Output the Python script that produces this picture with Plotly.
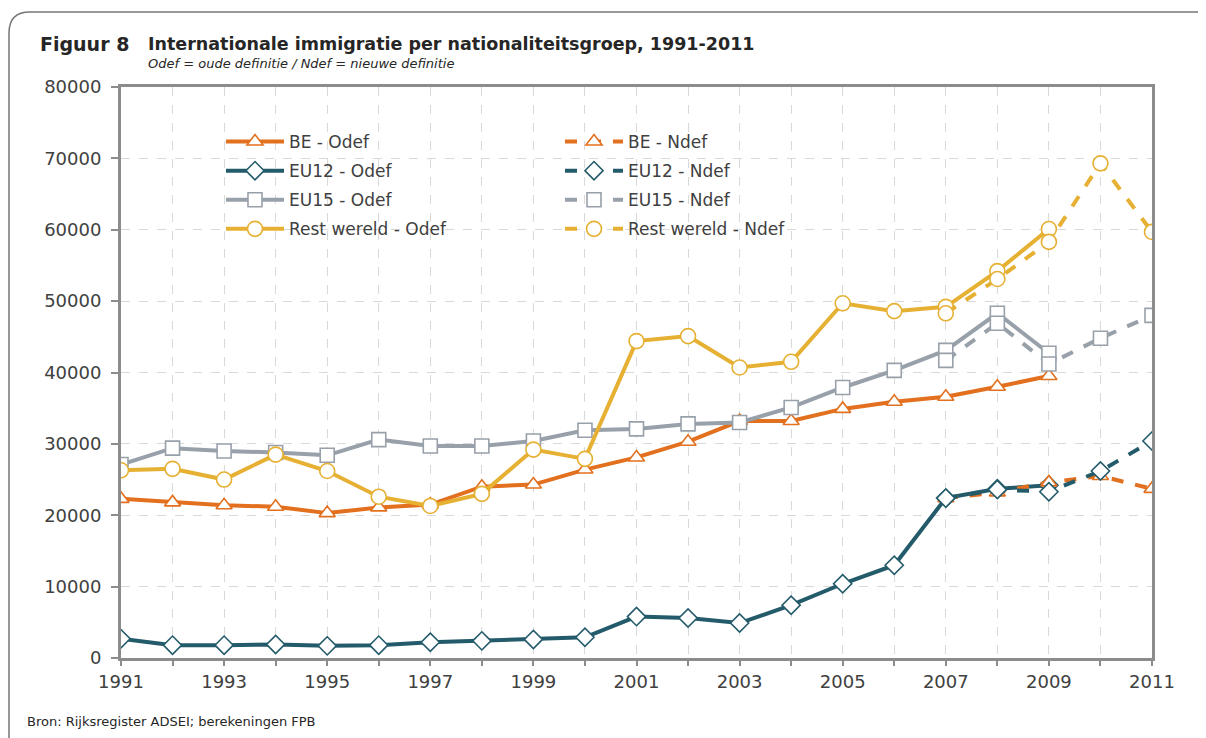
import plotly.graph_objects as go

# Jaren en reeksen
years_odef = list(range(1991, 2010))
years_ndef = list(range(2007, 2012))

be_odef = [22300, 21800, 21400, 21200, 20300, 21100, 21500, 24000, 24300, 26400,
           28100, 30300, 33200, 33200, 34900, 35900, 36600, 38000, 39500]
be_ndef = [22400, 23200, 24600, 25500, 23700]

eu12_odef = [2700, 1800, 1800, 1900, 1700, 1800, 2200, 2400, 2600, 2900,
             5800, 5600, 4900, 7400, 10400, 13000, 22400, 23700, 24200]
eu12_ndef = [22400, 23600, 23300, 26200, 30400]

eu15_odef = [27100, 29400, 29000, 28800, 28400, 30600, 29700, 29700, 30400, 31900,
             32100, 32800, 33000, 35100, 37900, 40300, 43100, 48300, 42700]
eu15_ndef = [41700, 46900, 41200, 44800, 48000]

rest_odef = [26300, 26500, 25000, 28500, 26200, 22600, 21300, 23000, 29200, 27900,
             44400, 45100, 40700, 41500, 49700, 48600, 49200, 54200, 60100]
rest_ndef = [48300, 53100, 58300, 69300, 59700]

x_labels = list(range(1991, 2012, 2))
y_ticks = list(range(0, 80001, 10000))

FONT = "DejaVu Sans"
series = [
    ("BE", be_odef, be_ndef, "#E2701E", "triangle-up", 14),
    ("EU12", eu12_odef, eu12_ndef, "#245B6B", "diamond", 14),
    ("EU15", eu15_odef, eu15_ndef, "#98A0AA", "square", 14),
    ("Rest wereld", rest_odef, rest_ndef, "#E6B033", "circle", 15),
]

fig = go.Figure()
for name, odef, ndef, color, symbol, size in series:
    marker = dict(symbol=symbol, size=size, color="white",
                  line=dict(color=color, width=1.6))
    fig.add_trace(go.Scatter(
        x=years_odef, y=odef, name=f"{name} - Odef", mode="lines+markers",
        line=dict(color=color, width=4), marker=marker,
        legend="legend", legendgroup=f"{name}o",
    ))
for name, odef, ndef, color, symbol, size in series:
    marker = dict(symbol=symbol, size=size, color="white",
                  line=dict(color=color, width=1.6))
    fig.add_trace(go.Scatter(
        x=years_ndef, y=ndef, name=f"{name} - Ndef", mode="lines+markers",
        line=dict(color=color, width=4, dash="dash"), marker=marker,
        legend="legend2", legendgroup=f"{name}n",
    ))

# pagina heeft 8px marge rond de figuur
OFF = 8
W, H = 1206, 738
L, R, T, B = 121 - OFF, 1152 - OFF, 87 - OFF, 658 - OFF
def px(x):
    return (x - OFF - L) / (R - L)
def py(y):
    return (B - (y - OFF)) / (B - T)

# kader met afgeronde hoek
frame = (f"M {px(1220)},{py(12)} L {px(30)},{py(12)} "
         f"Q {px(9)},{py(12)} {px(9)},{py(33)} L {px(9)},{py(745)}")

legend_common = dict(
    bgcolor="rgba(0,0,0,0)", font=dict(family=FONT, size=17, color="#404040"),
    traceorder="grouped", tracegroupgap=4, itemwidth=58,
    yanchor="top", xanchor="left",
)

fig.update_layout(
    width=W, height=H,
    margin=dict(l=L, r=W - R, t=T, b=H - B),
    paper_bgcolor="white", plot_bgcolor="white",
    font=dict(family=FONT, color="#404040"),
    showlegend=True,
    legend=dict(x=px(221), y=py(124), **legend_common),
    legend2=dict(x=px(560), y=py(124), **legend_common),
    xaxis=dict(
        range=[1991, 2011], tickvals=x_labels, ticktext=[str(v) for v in x_labels],
        showline=True, mirror=True, linecolor="#8C8C8C", linewidth=3,
        ticks="outside", ticklen=5, tickwidth=2, tickcolor="#8C8C8C",
        showgrid=True, gridcolor="#D9D9D9", griddash="dash", gridwidth=1,
        minor=dict(dtick=1, tick0=1991, showgrid=True, gridcolor="#D9D9D9",
                   griddash="dash", ticks="outside", ticklen=5, tickcolor="#8C8C8C"),
        tickfont=dict(family=FONT, size=18, color="#404040"),
        zeroline=False, fixedrange=True,
    ),
    yaxis=dict(
        range=[0, 80000], tickvals=y_ticks, ticktext=[str(v) for v in y_ticks],
        showline=True, mirror=True, linecolor="#8C8C8C", linewidth=3,
        ticks="outside", ticklen=7, tickwidth=2, tickcolor="#8C8C8C",
        ticklabelstandoff=6,
        showgrid=True, gridcolor="#D9D9D9", griddash="dash", gridwidth=1,
        tickfont=dict(family=FONT, size=18, color="#404040"),
        zeroline=False, fixedrange=True,
    ),
    shapes=[dict(type="path", path=frame, xref="paper", yref="paper",
                 line=dict(color="#777777", width=1.5), layer="above")],
    annotations=[
        dict(text="<b>Figuur 8</b>", x=px(38), y=py(44), xref="paper", yref="paper",
             xanchor="left", yanchor="middle", showarrow=False,
             font=dict(family=FONT, size=19, color="#262626")),
        dict(text="<b>Internationale immigratie per nationaliteitsgroep, 1991-2011</b>",
             x=px(146), y=py(44), xref="paper", yref="paper",
             xanchor="left", yanchor="middle", showarrow=False,
             font=dict(family=FONT, size=17.5, color="#262626")),
        dict(text="<i>Odef = oude definitie / Ndef = nieuwe definitie</i>",
             x=px(146), y=py(64), xref="paper", yref="paper",
             xanchor="left", yanchor="middle", showarrow=False,
             font=dict(family=FONT, size=13, color="#262626")),
        dict(text="Bron: Rijksregister ADSEI; berekeningen FPB",
             x=px(25), y=py(721), xref="paper", yref="paper",
             xanchor="left", yanchor="middle", showarrow=False,
             font=dict(family=FONT, size=13, color="#262626")),
    ],
)

fig.write_html("out.html")
